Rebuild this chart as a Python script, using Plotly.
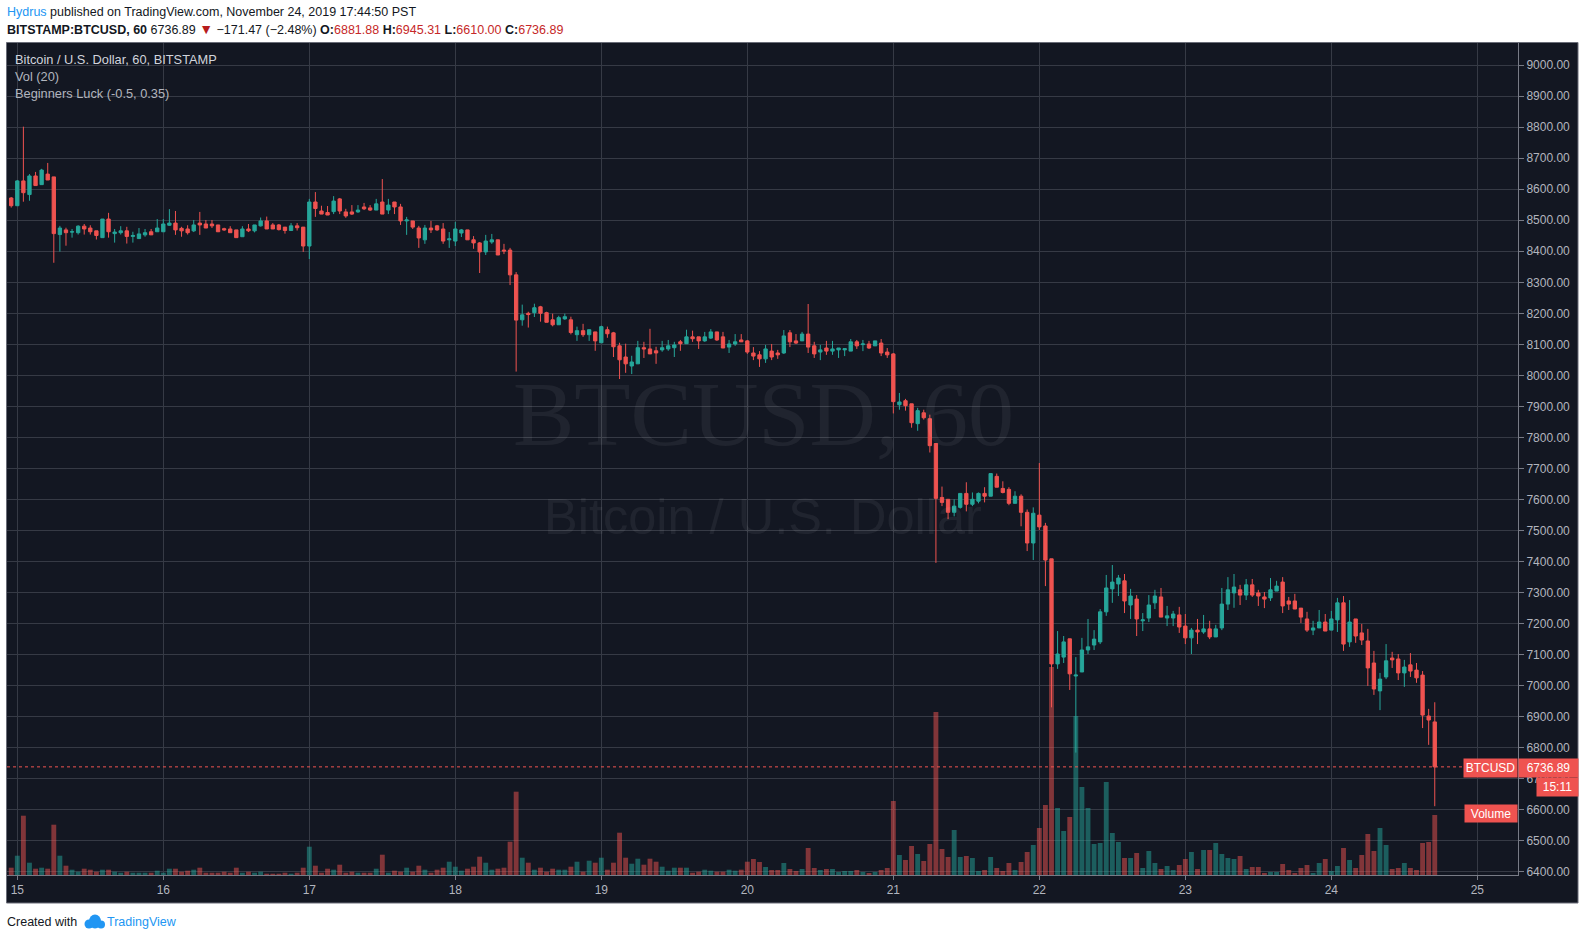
import plotly.graph_objects as go
import pandas as pd

# ---------------- data (hourly candles, BITSTAMP:BTCUSD, PST) ----------------
start_time = "2019-11-14 23:00"

opens = [8572, 8547, 8627, 8583, 8643, 8615, 8649, 8640, 8454, 8469, 8462, 8460, 8481, 8475, 8466, 8444,
         8504, 8457, 8460, 8466, 8448, 8441, 8453, 8463, 8463, 8463, 8484, 8491, 8474, 8472, 8466, 8491,
         8488, 8488, 8485, 8473, 8472, 8469, 8447, 8472, 8466, 8482, 8498, 8485, 8485, 8478, 8467, 8482,
         8478, 8417, 8559, 8530, 8525, 8528, 8569, 8527, 8527, 8527, 8543, 8540, 8533, 8559, 8533, 8559,
         8543, 8498, 8498, 8475, 8437, 8475, 8482, 8472, 8437, 8433, 8459, 8469, 8437, 8427, 8398, 8430,
         8437, 8404, 8404, 8324, 8179, 8200, 8202, 8221, 8202, 8179, 8163, 8182, 8179, 8131, 8144, 8131,
         8140, 8105, 8147, 8137, 8095, 8059, 8030, 8037, 8089, 8085, 8079, 8082, 8085, 8089, 8108, 8102,
         8124, 8124, 8111, 8120, 8140, 8124, 8091, 8101, 8114, 8111, 8072, 8066, 8053, 8078, 8072, 8072,
         8137, 8111, 8111, 8133, 8095, 8075, 8088, 8078, 8082, 8082, 8078, 8108, 8099, 8101, 8095, 8104,
         8075, 8069, 7905, 7918, 7908, 7844, 7879, 7860, 7780, 7606, 7600, 7558, 7574, 7619, 7584, 7594,
         7619, 7610, 7674, 7635, 7632, 7587, 7610, 7558, 7459, 7549, 7514, 7408, 7069, 7091, 7150, 7030,
         7043, 7114, 7130, 7140, 7237, 7311, 7327, 7337, 7259, 7278, 7208, 7217, 7266, 7285, 7217, 7217,
         7227, 7191, 7153, 7178, 7172, 7182, 7156, 7185, 7262, 7298, 7308, 7291, 7324, 7298, 7285, 7282,
         7304, 7333, 7272, 7272, 7249, 7214, 7178, 7185, 7204, 7178, 7211, 7266, 7140, 7214, 7169, 7143,
         7072, 6982, 7027, 7088, 7085, 7040, 7066, 7049, 7033, 6901, 6881.88]

highs = [8575, 8630, 8802, 8649, 8656, 8666, 8685, 8640, 8482, 8476, 8472, 8484, 8488, 8484, 8466, 8504,
         8524, 8472, 8481, 8479, 8463, 8475, 8472, 8472, 8504, 8504, 8536, 8530, 8479, 8484, 8501, 8527,
         8501, 8501, 8485, 8476, 8481, 8469, 8481, 8488, 8485, 8509, 8512, 8491, 8488, 8478, 8491, 8491,
         8478, 8569, 8591, 8547, 8546, 8578, 8572, 8537, 8549, 8549, 8556, 8549, 8569, 8633, 8569, 8559,
         8553, 8511, 8498, 8482, 8485, 8498, 8485, 8491, 8462, 8495, 8472, 8469, 8449, 8430, 8453, 8456,
         8437, 8424, 8411, 8333, 8228, 8205, 8231, 8224, 8205, 8199, 8192, 8199, 8189, 8157, 8166, 8147,
         8140, 8160, 8157, 8140, 8105, 8102, 8063, 8111, 8108, 8150, 8092, 8111, 8114, 8108, 8114, 8147,
         8144, 8124, 8140, 8149, 8140, 8140, 8114, 8133, 8133, 8114, 8091, 8078, 8098, 8101, 8082, 8146,
         8146, 8133, 8140, 8230, 8108, 8098, 8111, 8111, 8088, 8086, 8117, 8114, 8114, 8111, 8111, 8117,
         8088, 8072, 7943, 7924, 7908, 7895, 7889, 7873, 7780, 7641, 7600, 7600, 7619, 7655, 7622, 7622,
         7639, 7683, 7683, 7658, 7639, 7626, 7616, 7567, 7574, 7717, 7524, 7408, 7175, 7159, 7150, 7091,
         7153, 7214, 7178, 7246, 7356, 7388, 7356, 7359, 7311, 7291, 7233, 7291, 7308, 7314, 7256, 7240,
         7253, 7230, 7185, 7214, 7227, 7208, 7195, 7314, 7349, 7359, 7324, 7343, 7343, 7308, 7301, 7346,
         7337, 7349, 7285, 7295, 7249, 7237, 7208, 7243, 7230, 7240, 7282, 7288, 7275, 7214, 7198, 7182,
         7111, 7040, 7133, 7108, 7101, 7082, 7104, 7072, 7046, 6924, 6945.31]

lows = [8541, 8547, 8560, 8563, 8612, 8615, 8630, 8363, 8399, 8418, 8444, 8454, 8454, 8454, 8438, 8444,
        8444, 8428, 8454, 8425, 8428, 8441, 8447, 8453, 8463, 8463, 8482, 8453, 8447, 8454, 8462, 8453,
        8475, 8475, 8463, 8466, 8460, 8444, 8447, 8462, 8461, 8480, 8472, 8472, 8467, 8457, 8467, 8467,
        8398, 8375, 8511, 8520, 8517, 8520, 8520, 8508, 8517, 8524, 8533, 8530, 8533, 8520, 8520, 8520,
        8485, 8453, 8472, 8411, 8424, 8459, 8466, 8424, 8411, 8417, 8446, 8437, 8408, 8330, 8388, 8424,
        8388, 8391, 8291, 8012, 8160, 8154, 8188, 8173, 8171, 8158, 8163, 8179, 8132, 8111, 8124, 8111,
        8079, 8105, 8121, 8059, 7988, 8008, 8004, 8037, 8056, 8069, 8037, 8076, 8079, 8059, 8079, 8102,
        8108, 8085, 8108, 8117, 8111, 8088, 8072, 8095, 8108, 8069, 8049, 8027, 8040, 8049, 8053, 8069,
        8091, 8101, 8111, 8072, 8056, 8049, 8066, 8066, 8056, 8062, 8078, 8085, 8078, 8085, 8095, 8062,
        8056, 7877, 7889, 7886, 7831, 7821, 7857, 7751, 7395, 7578, 7536, 7545, 7570, 7561, 7578, 7587,
        7590, 7610, 7639, 7619, 7581, 7587, 7513, 7433, 7404, 7501, 7320, 6929, 7053, 7072, 6985, 6783,
        7043, 7101, 7114, 7133, 7224, 7266, 7288, 7233, 7214, 7159, 7175, 7204, 7246, 7220, 7191, 7191,
        7169, 7133, 7101, 7133, 7166, 7149, 7156, 7178, 7243, 7250, 7259, 7275, 7285, 7256, 7249, 7272,
        7304, 7233, 7243, 7246, 7201, 7172, 7162, 7185, 7175, 7178, 7172, 7111, 7124, 7137, 7130, 6998,
        6969, 6920, 7020, 7056, 7017, 6995, 7027, 7008, 6862, 6808, 6610.00]

closes = [8547, 8627, 8589, 8643, 8612, 8662, 8630, 8457, 8475, 8460, 8463, 8481, 8472, 8463, 8451, 8504,
          8463, 8462, 8466, 8448, 8451, 8456, 8460, 8453, 8475, 8488, 8491, 8469, 8466, 8460, 8485, 8485,
          8475, 8482, 8463, 8469, 8460, 8444, 8472, 8466, 8485, 8498, 8472, 8472, 8470, 8467, 8482, 8476,
          8417, 8559, 8538, 8520, 8517, 8562, 8530, 8514, 8520, 8533, 8537, 8533, 8553, 8520, 8549, 8543,
          8498, 8501, 8478, 8443, 8475, 8469, 8469, 8433, 8440, 8472, 8469, 8437, 8427, 8398, 8433, 8437,
          8388, 8401, 8324, 8178, 8195, 8196, 8218, 8200, 8171, 8163, 8186, 8189, 8138, 8144, 8131, 8147,
          8111, 8157, 8134, 8092, 8050, 8037, 8043, 8089, 8085, 8069, 8072, 8089, 8095, 8098, 8102, 8124,
          8118, 8111, 8124, 8140, 8114, 8088, 8101, 8108, 8108, 8075, 8062, 8053, 8085, 8059, 8066, 8127,
          8108, 8104, 8133, 8091, 8069, 8082, 8078, 8085, 8088, 8086, 8108, 8095, 8101, 8088, 8111, 8072,
          8066, 7915, 7914, 7902, 7847, 7886, 7863, 7773, 7603, 7590, 7558, 7578, 7619, 7584, 7600, 7619,
          7610, 7683, 7639, 7622, 7587, 7610, 7558, 7459, 7555, 7511, 7404, 7069, 7101, 7140, 7037, 7033,
          7114, 7124, 7149, 7237, 7314, 7333, 7346, 7272, 7288, 7214, 7211, 7259, 7288, 7220, 7224, 7230,
          7188, 7153, 7178, 7172, 7182, 7156, 7182, 7262, 7308, 7317, 7291, 7324, 7291, 7288, 7278, 7308,
          7320, 7256, 7262, 7246, 7220, 7178, 7185, 7204, 7175, 7214, 7266, 7133, 7204, 7159, 7146, 7056,
          6988, 7020, 7079, 7082, 7040, 7059, 7046, 7024, 6904, 6888, 6736.89]

volumes = [73, 193, 593, 123, 63, 73, 63, 503, 193, 93, 53, 33, 63, 53, 33, 53,
           53, 33, 23, 33, 23, 23, 23, 23, 43, 23, 63, 63, 33, 43, 53, 73,
           23, 23, 23, 33, 23, 73, 23, 33, 23, 33, 13, 13, 13, 23, 13, 23,
           73, 283, 93, 23, 63, 53, 103, 23, 33, 23, 23, 23, 63, 203, 23, 43,
           33, 73, 33, 93, 53, 23, 53, 73, 133, 83, 43, 63, 83, 183, 123, 53,
           63, 73, 333, 833, 173, 123, 53, 73, 33, 63, 53, 53, 83, 133, 33, 143,
           123, 173, 53, 123, 423, 173, 113, 163, 103, 163, 133, 83, 43, 73, 73, 73,
           23, 33, 53, 43, 33, 33, 53, 43, 53, 133, 160, 130, 80, 50, 50, 120,
           60, 40, 60, 270, 70, 50, 60, 60, 30, 40, 40, 50, 30, 20, 30, 50,
           70, 740, 200, 150, 290, 210, 140, 310, 1630, 260, 180, 450, 180, 190, 170, 40,
           50, 180, 70, 40, 120, 50, 130, 230, 300, 470, 700, 2080, 670, 440, 580, 1590,
           880, 670, 310, 320, 930, 420, 330, 170, 170, 220, 70, 240, 120, 60, 90, 50,
           100, 160, 230, 60, 250, 250, 320, 210, 170, 160, 190, 60, 80, 80, 20, 30,
           30, 110, 50, 20, 70, 100, 20, 120, 160, 40, 90, 270, 150, 70, 200, 410,
           240, 470, 300, 60, 70, 120, 70, 50, 320, 330, 600]

day_labels = ["15", "16", "17", "18", "19", "20", "21", "22", "23", "24", "25"]
last_price = 6736.89

# ---------------- geometry helpers ----------------
W, H = 1585, 940
L, R, T, B = 7, 1518, 43, 875


def px(x):
    return (x - L) / (R - L)


def py(y):
    return (B - y) / (B - T)


BG = "#131722"
GRID = "#363a45"
UP = "#26a69a"
DN = "#ef5350"
AXIS = "#787b86"
TXT = "#b2b5be"

times = pd.date_range(start_time, periods=len(opens), freq="h")
day_ticks = pd.date_range("2019-11-15", periods=len(day_labels), freq="D")

vol_colors = ["rgba(38,166,154,0.5)" if c >= o else "rgba(239,83,80,0.5)"
              for o, c in zip(opens, closes)]

fig = go.Figure()
fig.add_trace(go.Bar(x=times, y=volumes, marker=dict(color=vol_colors, line=dict(width=0)),
                     width=0.8 * 3600000, xaxis="x", yaxis="y", hoverinfo="skip"))
fig.add_trace(go.Candlestick(
    x=times, open=opens, high=highs, low=lows, close=closes, xaxis="x", yaxis="y2",
    increasing=dict(line=dict(color=UP, width=1), fillcolor=UP),
    decreasing=dict(line=dict(color=DN, width=1), fillcolor=DN),
    whiskerwidth=0))

shapes = [
    dict(type="rect", xref="paper", yref="paper", layer="below",
         x0=px(6.5), x1=px(1578), y0=py(903), y1=py(42.5),
         fillcolor=BG, line=dict(color="#6a6d78", width=1)),
    dict(type="line", xref="paper", yref="y2", x0=0, x1=1, y0=last_price, y1=last_price,
         line=dict(color=DN, width=1, dash="dot")),
    # TradingView logo (cloud)
    dict(type="circle", xref="paper", yref="paper", x0=px(84.5), x1=px(93.5), y0=py(928.5), y1=py(919.5),
         fillcolor="#2196f3", line=dict(width=0)),
    dict(type="circle", xref="paper", yref="paper", x0=px(89), x1=px(101), y0=py(928.5), y1=py(914.5),
         fillcolor="#2196f3", line=dict(width=0)),
    dict(type="circle", xref="paper", yref="paper", x0=px(97), x1=px(105), y0=py(928.5), y1=py(920.5),
         fillcolor="#2196f3", line=dict(width=0)),
]

ann = []


def add_text(x, y, text, size=12, color="#131722", xanchor="left", family="Liberation Sans", **kw):
    ann.append(dict(x=px(x), y=py(y), xref="paper", yref="paper", text=text, showarrow=False,
                    xanchor=xanchor, yanchor="middle", font=dict(size=size, color=color, family=family), **kw))


# header
add_text(5, 12, "<span style='color:#2196f3'>Hydrus</span> published on TradingView.com, November 24, 2019 17:44:50 PST", size=12.5)
add_text(5, 29, "<b>BITSTAMP:BTCUSD, 60</b> 6736.89 <span style='color:#b71c1c;font-size:14px'>▼</span> −171.47 (−2.48%) "
         "<b>O:</b><span style='color:#c62828'>6881.88</span> <b>H:</b><span style='color:#c62828'>6945.31</span> "
         "<b>L:</b><span style='color:#c62828'>6610.00</span> <b>C:</b><span style='color:#c62828'>6736.89</span>", size=12.5)

# legend texts inside chart
add_text(13, 60, "Bitcoin / U.S. Dollar, 60, BITSTAMP", size=12.8, color="#d1d4dc")
add_text(13, 77, "Vol (20)", size=12.8, color="#b2b5be")
add_text(13, 94, "Beginners Luck (-0.5, 0.35)", size=12.8, color="#b2b5be")

# watermarks
add_text(763, 414, "BTCUSD, 60", size=92, color="rgba(255,255,255,0.06)", xanchor="center", family="Liberation Serif")
add_text(763, 516, "Bitcoin / U.S. Dollar", size=50.5, color="rgba(255,255,255,0.06)", xanchor="center")

# footer
add_text(5, 922, "Created with", size=12.5)
add_text(105, 922, "TradingView", size=12.5, color="#2196f3")

# price labels on the right
lab_y = 768


def label(xc, y, w, h, text):
    ann.append(dict(x=px(xc), y=py(y), xref="paper", yref="paper", text=text, showarrow=False,
                    xanchor="center", yanchor="middle", bgcolor=DN, width=w, height=h, borderpad=0,
                    font=dict(size=12, color="white", family="Liberation Sans")))


label(1490.5, lab_y, 53, 18, "BTCUSD")
label(1548.5, lab_y, 59, 18, "6736.89")
label(1557.5, 787, 41, 18, "15:11")
label(1491, 813.5, 52, 17, "Volume")

fig.update_layout(
    width=W, height=H,
    margin=dict(l=L, r=W - R, t=T, b=H - B, pad=0),
    paper_bgcolor="white", plot_bgcolor=BG,
    showlegend=False, boxgap=0.22,
    shapes=shapes, annotations=ann,
    xaxis=dict(type="date", range=["2019-11-14 22:18:25", "2019-11-25 06:41:00"],
               rangeslider=dict(visible=False), showgrid=True, gridcolor=GRID, gridwidth=1,
               tickvals=day_ticks, ticktext=day_labels, ticks="outside", ticklen=4, tickcolor=AXIS,
               showline=True, linecolor=AXIS, linewidth=1, zeroline=False,
               tickfont=dict(size=12, color=TXT, family="Liberation Sans")),
    yaxis=dict(range=[0, 8320], visible=False, showgrid=False, zeroline=False, fixedrange=True),
    yaxis2=dict(overlaying="y", side="right", anchor="x", range=[6388.1, 9071.9],
                dtick=100, tick0=0, tickformat=".2f", showgrid=True, gridcolor=GRID, gridwidth=1,
                ticks="outside", ticklen=5, tickcolor=AXIS, showline=True, linecolor=AXIS,
                linewidth=1, zeroline=False, tickfont=dict(size=12, color=TXT, family="Liberation Sans")),
)

fig.write_html("out.html")
